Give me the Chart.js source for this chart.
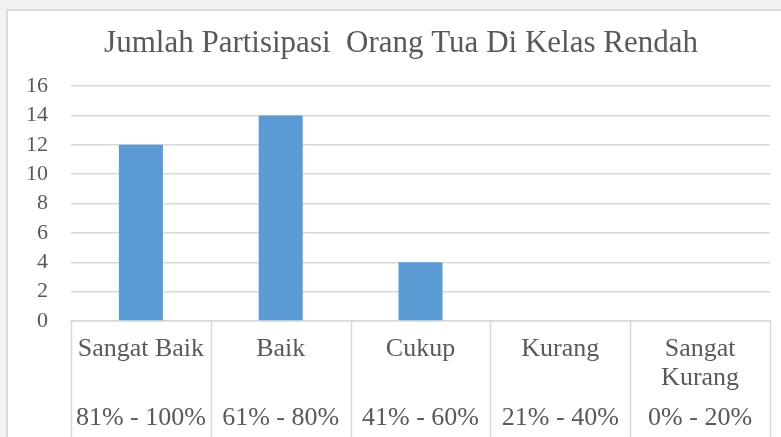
<!DOCTYPE html>
<html>
<head>
<meta charset="utf-8">
<script src="https://cdn.jsdelivr.net/npm/chart.js@4"></script>
<style>
  html, body { margin: 0; padding: 0; background: #f2f2f2; overflow: hidden; }
  #box {
    position: absolute; left: 6px; top: 9px; width: 800px; height: 500px;
    background: #fff; border-left: 2px solid #d9d9d9; border-top: 2px solid #d9d9d9;
  }
  #chart { position: absolute; left: 0; top: 0; }
</style>
</head>
<body>
<div id="box"></div>
<canvas id="chart" width="781" height="437"></canvas>
<script>
'use strict';

// Kategori dan data
const chartTitle = 'Jumlah Partisipasi  Orang Tua Di Kelas Rendah';
const categories = ['Sangat Baik', 'Baik', 'Cukup', 'Kurang', ['Sangat', 'Kurang']];
const ranges = ['81% - 100%', '61% - 80%', '41% - 60%', '21% - 40%', '0% - 20%'];
const jumlah = [12, 14, 4, 0, 0];
const yTicks = [0, 2, 4, 6, 8, 10, 12, 14, 16];

const fontFamily = '"Liberation Serif", "Times New Roman", serif';
const textColor = '#595959';
const lineColor = '#d9d9d9';

// Judul dan tabel kategori di bawah sumbu x
const categoryTable = {
  id: 'categoryTable',
  afterDraw(chart) {
    const ctx = chart.ctx;
    const x = chart.scales.x;
    const area = chart.chartArea;
    const half = (x.getPixelForValue(1) - x.getPixelForValue(0)) / 2;
    ctx.save();

    ctx.fillStyle = textColor;
    ctx.textAlign = 'center';
    ctx.textBaseline = 'alphabetic';
    ctx.font = '31px ' + fontFamily;
    ctx.fillText(chartTitle, 401, 52);

    ctx.strokeStyle = lineColor;
    ctx.lineWidth = 1.5;
    for (let i = 0; i <= categories.length; i++) {
      const px = Math.round(x.getPixelForValue(i) - half) + 0.5;
      ctx.beginPath();
      ctx.moveTo(px, area.bottom);
      ctx.lineTo(px, chart.height);
      ctx.stroke();
    }

    ctx.font = '26px ' + fontFamily;
    ctx.textBaseline = 'middle';
    categories.forEach((cat, i) => {
      const cx = x.getPixelForValue(i);
      const lines = Array.isArray(cat) ? cat : [cat];
      lines.forEach((line, j) => ctx.fillText(line, cx, area.bottom + 28 + j * 29));
      ctx.fillText(ranges[i], cx, area.bottom + 97);
    });
    ctx.restore();
  }
};

new Chart(document.getElementById('chart'), {
  type: 'bar',
  data: {
    labels: categories,
    datasets: [{
      data: jumlah,
      backgroundColor: '#5b9bd5',
      borderWidth: 0,
      barPercentage: 0.315,
      categoryPercentage: 1,
    }],
  },
  options: {
    responsive: false,
    animation: false,
    layout: { padding: { left: 0, right: 11, top: 86, bottom: 0 } },
    plugins: {
      legend: { display: false },
      tooltip: { enabled: false },
      title: { display: false },
    },
    scales: {
      x: {
        ticks: { display: false },
        grid: { display: false },
        border: { display: true, color: lineColor, width: 1.5 },
        afterFit(scale) { scale.height = 116; },
      },
      y: {
        min: 0,
        max: 16,
        afterBuildTicks(scale) { scale.ticks = yTicks.map(v => ({ value: v })); },
        ticks: {
          color: textColor,
          padding: 23,
          autoSkip: false,
          font: { family: fontFamily, size: 22 },
        },
        grid: { color: lineColor, lineWidth: 1.5, drawTicks: false },
        border: { display: false },
        afterFit(scale) { scale.width = 71; },
      },
    },
  },
  plugins: [categoryTable],
});
</script>
</body>
</html>
